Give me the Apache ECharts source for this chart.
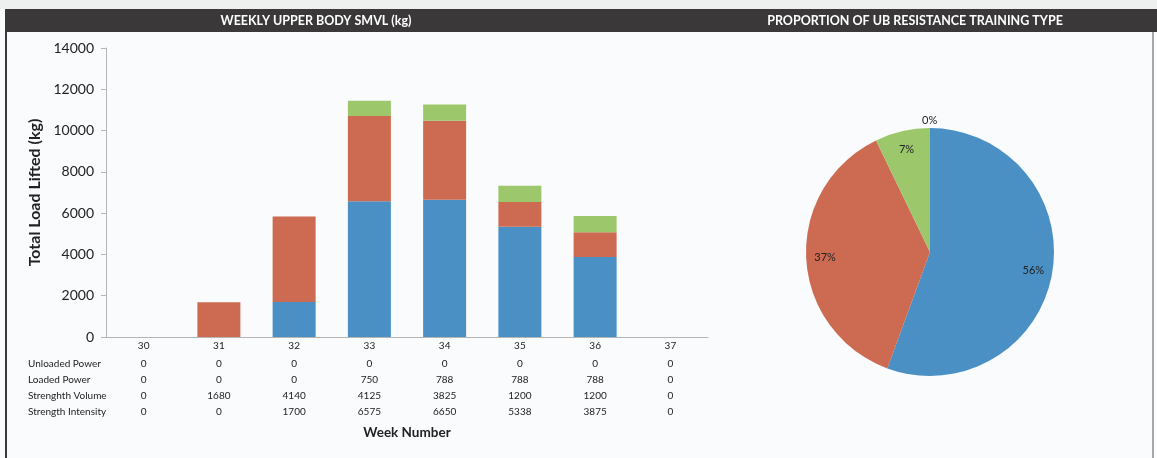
<!DOCTYPE html>
<html>
<head>
<meta charset="utf-8">
<script src="https://cdn.jsdelivr.net/npm/echarts@6/dist/echarts.min.js"></script>
<style>
  html, body { margin: 0; padding: 0; background: #f4f6f6; }
  #chart { width: 1157px; height: 458px; }
</style>
</head>
<body>
<div id="chart"></div>
<script>
// weekly data
const weeks = ['30', '31', '32', '33', '34', '35', '36', '37']
const unloadedPower = [0, 0, 0, 0, 0, 0, 0, 0]
const loadedPower = [0, 0, 0, 750, 788, 788, 788, 0]
const strengthVolume = [0, 1680, 4140, 4125, 3825, 1200, 1200, 0]
const strengthIntensity = [0, 0, 1700, 6575, 6650, 5338, 3875, 0]
const rowNames = ['Unloaded Power', 'Loaded Power', 'Strenghth Volume', 'Strength Intensity']
const yMin = 0
const yMax = 14000
const yStep = 2000

const colors = {
  intensity: '#4a90c4',
  volume: '#cd6b52',
  loaded: '#9dc76b',
  unloaded: '#8064a2'
}
const font = 'Lato, "Open Sans", sans-serif'

const chart = echarts.init(document.getElementById('chart'))

// table rows, from top to bottom
const rows = [
  { name: rowNames[0], values: unloadedPower, y: 363 },
  { name: rowNames[1], values: loadedPower, y: 379 },
  { name: rowNames[2], values: strengthVolume, y: 395 },
  { name: rowNames[3], values: strengthIntensity, y: 411 }
]
const axisY = 337

const tableAxes = rows.map(r => ({
  type: 'category',
  gridIndex: 0,
  position: 'bottom',
  offset: r.y - axisY + 1,
  data: r.values.map(String),
  axisLine: { show: false },
  axisTick: { show: false },
  axisLabel: { interval: 0, margin: 0, verticalAlign: 'middle', fontSize: 10, color: '#222', fontFamily: font },
  name: r.name,
  nameLocation: 'start',
  nameGap: 78,
  nameTextStyle: { align: 'left', verticalAlign: 'middle', fontSize: 10, color: '#222', fontFamily: font }
}))

const sum = arr => arr.reduce((a, b) => a + b, 0)
const pieData = [
  { name: 'Strength Intensity', value: sum(strengthIntensity), itemStyle: { color: colors.intensity } },
  { name: 'Strenghth Volume', value: sum(strengthVolume), itemStyle: { color: colors.volume } },
  { name: 'Loaded Power', value: sum(loadedPower), itemStyle: { color: colors.loaded } },
  { name: 'Unloaded Power', value: sum(unloadedPower), itemStyle: { color: colors.unloaded } }
]
const pieCenter = [930, 252]

chart.setOption({
  animation: false,
  backgroundColor: '#f9fbfc',
  textStyle: { fontFamily: font },
  graphic: [
    { type: 'rect', shape: { x: 0, y: 0, width: 1157, height: 9 }, style: { fill: '#eef0f0' }, silent: true },
    { type: 'rect', shape: { x: 5, y: 9, width: 1152, height: 23 }, style: { fill: '#3a3839' }, silent: true },
    { type: 'text', x: 316, y: 21, style: { text: 'WEEKLY UPPER BODY SMVL (kg)', fill: '#fff', font: 'bold 12.5px ' + font, align: 'center', verticalAlign: 'middle' }, silent: true },
    { type: 'text', x: 915, y: 21, style: { text: 'PROPORTION OF UB RESISTANCE TRAINING TYPE', fill: '#fff', font: 'bold 12.5px ' + font, align: 'center', verticalAlign: 'middle' }, silent: true },
    { type: 'line', shape: { x1: 6, y1: 32, x2: 6, y2: 458 }, style: { stroke: '#3a3839', lineWidth: 2 }, silent: true },
    { type: 'line', shape: { x1: 1153, y1: 32, x2: 1153, y2: 458 }, style: { stroke: '#555', lineWidth: 1 }, silent: true }
  ],
  grid: { left: 106, right: 449, top: 48, bottom: 458 - axisY },
  xAxis: [
    {
      type: 'category',
      data: weeks,
      axisLine: { lineStyle: { color: '#b5b5b5' } },
      axisTick: { show: false },
      axisLabel: { interval: 0, margin: 4, fontSize: 10, color: '#222', fontFamily: font },
      name: 'Week Number',
      nameLocation: 'middle',
      nameGap: 89,
      nameTextStyle: { fontSize: 13.5, fontWeight: 'bold', color: '#222', fontFamily: font }
    }
  ].concat(tableAxes),
  yAxis: {
    type: 'value',
    min: yMin,
    max: yMax,
    interval: yStep,
    axisLine: { show: true, lineStyle: { color: '#b5b5b5' } },
    axisTick: { show: true, length: 5, lineStyle: { color: '#b5b5b5' } },
    splitLine: { show: false },
    axisLabel: { fontSize: 14, margin: 12, color: '#222', fontFamily: font, formatter: v => String(v) },
    name: 'Total Load Lifted (kg)',
    nameLocation: 'middle',
    nameGap: 61,
    nameTextStyle: { fontSize: 16, fontWeight: 'bold', color: '#222', fontFamily: font }
  },
  series: [
    { name: rowNames[3], type: 'bar', stack: 'load', barWidth: 43, data: strengthIntensity, itemStyle: { color: colors.intensity } },
    { name: rowNames[2], type: 'bar', stack: 'load', barWidth: 43, data: strengthVolume, itemStyle: { color: colors.volume } },
    { name: rowNames[1], type: 'bar', stack: 'load', barWidth: 43, data: loadedPower, itemStyle: { color: colors.loaded } },
    { name: rowNames[0], type: 'bar', stack: 'load', barWidth: 43, data: unloadedPower, itemStyle: { color: colors.unloaded } },
    {
      type: 'pie',
      center: pieCenter,
      radius: 124,
      startAngle: 90,
      silent: true,
      label: { show: false },
      labelLine: { show: false },
      itemStyle: { borderWidth: 0 },
      data: pieData
    },
    {
      // label layer on top of the pie
      type: 'pie',
      center: pieCenter,
      radius: [80, 124],
      startAngle: 90,
      silent: true,
      percentPrecision: 0,
      itemStyle: { color: 'transparent', borderWidth: 0 },
      label: { show: true, position: 'inside', formatter: '{d}%', fontSize: 11, color: '#222', fontFamily: font },
      labelLine: { show: false },
      data: pieData.map(d => d.value > 0 ? { name: d.name, value: d.value } : {
        name: d.name,
        value: d.value,
        label: { position: 'outside', distanceToLabelLine: -8 },
        labelLine: { show: false, length: 8, length2: 0 }
      })
    }
  ]
})
</script>
</body>
</html>
